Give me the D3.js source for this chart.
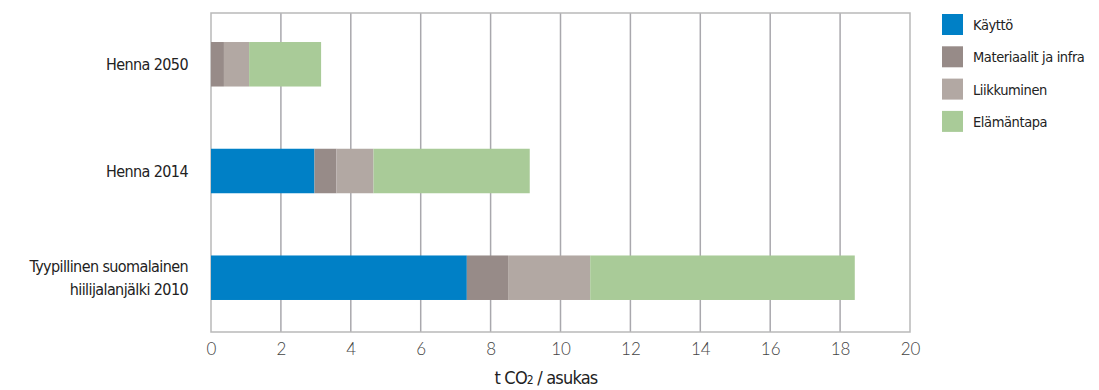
<html>
<head>
  <title>Hiilijalanjälki</title>
  <script src='https://d3js.org/d3.v7.min.js'></script>
  <style>
    body { margin: 0; background: #fff; }
  </style>
</head>
<body>
<script>

// data
var categories = ["Henna 2050", "Henna 2014", "Tyypillinen suomalainen|hiilijalanjälki 2010"];
var seriesNames = ["Käyttö", "Materiaalit ja infra", "Liikkuminen", "Elämäntapa"];
var kaytto = [0, 2.96, 7.32];
var materiaalit = [0.37, 0.63, 1.18];
var liikkuminen = [0.72, 1.06, 2.35];
var elamantapa = [2.06, 4.47, 7.57];
var xTicks = [0, 2, 4, 6, 8, 10, 12, 14, 16, 18, 20];

var colors = ["#0080c6", "#978b88", "#b2a8a3", "#a9cb98"];

var width = 1099,
    height = 390;

var margin = {top: 13, right: 189, bottom: 58, left: 211};

var condensed = "'Liberation Sans Narrow', 'DejaVu Sans Condensed', sans-serif";

var rows = categories.map(function(c, i) {
  return {cat: c, "Käyttö": kaytto[i], "Materiaalit ja infra": materiaalit[i],
          "Liikkuminen": liikkuminen[i], "Elämäntapa": elamantapa[i]};
});

var stack = d3.stack().keys(seriesNames)(rows);

var x = d3.scaleLinear().domain([0, 20]).range([margin.left, width - margin.right]),
    y = d3.scaleBand().domain(categories).range([margin.top - 3, height - margin.bottom]).paddingInner(0.583).paddingOuter(0.3);

var svg = d3.select('body')
            .append('svg')
            .attr('width', width)
            .attr('height', height);

// gridlines
svg.append('g')
   .selectAll('line')
   .data(xTicks.slice(1, -1))
   .enter()
   .append('line')
   .attr('x1', function(d) { return x(d); })
   .attr('x2', function(d) { return x(d); })
   .attr('y1', margin.top)
   .attr('y2', height - margin.bottom)
   .attr('stroke', '#a9a8ad')
   .attr('stroke-width', 1.5);

// frame
svg.append('rect')
   .attr('x', x(0))
   .attr('y', margin.top)
   .attr('width', x(20) - x(0))
   .attr('height', height - margin.bottom - margin.top)
   .attr('fill', 'none')
   .attr('stroke', '#b9b9b9')
   .attr('stroke-width', 1.5);

// bars
svg.append('g')
   .selectAll('g')
   .data(stack)
   .enter()
   .append('g')
   .attr('fill', function(d, i) { return colors[i]; })
   .selectAll('rect')
   .data(function(d) { return d; })
   .enter()
   .append('rect')
   .attr('x', function(d) { return x(d[0]); })
   .attr('y', function(d) { return y(d.data.cat); })
   .attr('width', function(d) { return x(d[1]) - x(d[0]); })
   .attr('height', y.bandwidth());

// x axis
var xAxis = svg.append('g')
   .attr('transform', 'translate(0,' + (height - margin.bottom) + ')')
   .call(d3.axisBottom(x).tickValues(xTicks).tickSize(0).tickPadding(11));

xAxis.select('.domain').remove();
xAxis.selectAll('text')
     .attr('fill', '#444')
     .style('font-family', 'Lato, sans-serif')
     .style('font-weight', 300)
     .style('font-size', '17px');

// axis title
var title = svg.append('text')
   .attr('x', 546)
   .attr('y', 384)
   .attr('text-anchor', 'middle')
   .attr('fill', '#222')
   .style('font-family', condensed)
   .style('font-size', '18px')
   .style('letter-spacing', '-0.8px');
title.append('tspan').text('t CO');
title.append('tspan').style('font-size', '12px').text('2');
title.append('tspan').text(' / asukas');

// category labels
svg.append('g')
   .selectAll('text')
   .data(categories)
   .enter()
   .append('text')
   .attr('text-anchor', 'end')
   .attr('fill', '#222')
   .style('font-family', condensed)
   .style('font-size', '16px')
   .style('letter-spacing', '-0.6px')
   .each(function(d) {
     var lines = d.split('|');
     var cy = y(d) + y.bandwidth() / 2;
     var t = d3.select(this);
     lines.forEach(function(l, i) {
       t.append('tspan')
        .attr('x', 188)
        .attr('y', cy + 6 + (i - (lines.length - 1) / 2) * 23)
        .text(l);
     });
   });

// legend
var legend = svg.append('g')
   .selectAll('g')
   .data(seriesNames)
   .enter()
   .append('g')
   .attr('transform', function(d, i) { return 'translate(942,' + (14 + i * 32.3) + ')'; });

legend.append('rect')
      .attr('width', 21)
      .attr('height', 21)
      .attr('fill', function(d, i) { return colors[i]; });

legend.append('text')
      .attr('x', 31)
      .attr('y', 16)
      .text(function(d) { return d; })
      .attr('fill', '#222')
      .style('font-family', condensed)
      .style('font-size', '14.5px')
      .style('letter-spacing', '-0.4px');

</script>
</body>
</html>
